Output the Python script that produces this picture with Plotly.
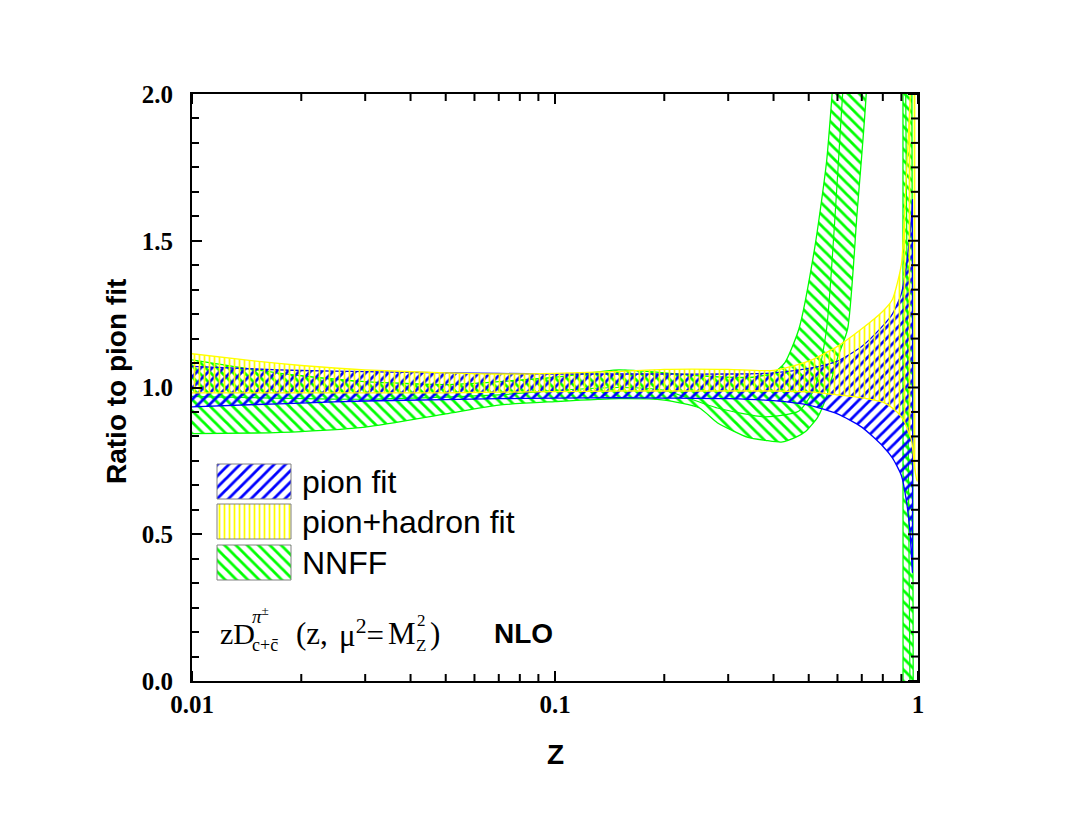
import math
import plotly.graph_objects as go

# band edges: ratio to the pion-fit central value
z_pion = [0.01, 0.015, 0.02, 0.03, 0.05, 0.07, 0.1, 0.15, 0.2, 0.3, 0.4, 0.5,
          0.6, 0.7, 0.8, 0.85, 0.9, 0.93, 0.95, 0.962, 0.965]
pion_hi = [1.072, 1.063, 1.058, 1.054, 1.05, 1.048, 1.046, 1.046, 1.046, 1.046, 1.05, 1.065,
           1.09, 1.14, 1.21, 1.25, 1.32, 1.42, 1.52, 1.6, 1.64]
pion_lo = [0.934, 0.942, 0.947, 0.954, 0.959, 0.962, 0.964, 0.965, 0.964, 0.962, 0.955, 0.94,
           0.91, 0.865, 0.80, 0.76, 0.70, 0.61, 0.51, 0.40, 0.37]

z_ph = [0.01, 0.015, 0.02, 0.03, 0.05, 0.07, 0.1, 0.15, 0.2, 0.3, 0.4, 0.5,
        0.6, 0.7, 0.8, 0.85, 0.9, 0.92, 0.94, 0.96, 0.98, 0.995]
ph_hi = [1.115, 1.09, 1.075, 1.06, 1.05, 1.046, 1.048, 1.055, 1.062, 1.062, 1.058, 1.09,
         1.14, 1.2, 1.26, 1.30, 1.42, 1.62, 1.85, 2.1, 2.6, 3.0]
ph_lo = [0.982, 0.982, 0.982, 0.982, 0.982, 0.984, 0.986, 0.988, 0.988, 0.988, 0.988, 0.985,
         0.975, 0.965, 0.95, 0.93, 0.90, 0.88, 0.85, 0.82, 0.72, 0.68]

z_nnff_hi = [0.01, 0.015, 0.02, 0.03, 0.05, 0.07, 0.1, 0.15, 0.2, 0.25, 0.3, 0.35, 0.4,
             0.43, 0.47, 0.52, 0.56, 0.58, 0.62, 0.7, 0.8, 0.88, 0.905, 0.909, 0.9095, 0.912, 0.975]
nnff_hi = [1.094, 1.06, 1.04, 1.02, 1.01, 1.02, 1.035, 1.06, 1.05, 1.04, 1.035, 1.035, 1.05,
           1.085, 1.2, 1.48, 1.77, 2.0, 2.5, 3.5, 5.0, 6.0, 3.0, 2.0, 0.0, -1.0, -3.0]
z_nnff_lo = [0.01, 0.015, 0.02, 0.03, 0.05, 0.07, 0.1, 0.15, 0.2, 0.25, 0.28, 0.34, 0.38,
             0.42, 0.46, 0.49, 0.53, 0.56, 0.6, 0.64, 0.68, 0.72, 0.8, 0.9, 0.955, 0.962, 0.97, 0.975]
nnff_lo = [0.843, 0.845, 0.85, 0.865, 0.91, 0.94, 0.952, 0.962, 0.957, 0.93, 0.88, 0.83, 0.82,
           0.814, 0.83, 0.85, 0.9, 0.97, 1.1, 1.2, 1.6, 2.0, 3.5, 6.0, 3.0, 2.0, 0.0, -3.0]
z_nnff_mid = [0.01, 0.03, 0.07, 0.1, 0.15, 0.2, 0.28, 0.38, 0.47, 0.52, 0.56, 0.62, 0.7,
              0.85, 0.92, 0.925, 0.95, 0.96]
nnff_mid = [0.97, 0.96, 0.975, 0.99, 1.0, 0.99, 0.93, 0.9, 0.92, 1.0, 1.2, 2.0, 3.0,
            5.0, 3.0, 2.0, 0.0, -2.0]

names = ["pion fit", "pion+hadron fit", "NNFF"]
colors = ["#0000ff", "#ffff00", "#00ff00"]
shapes = ["/", "|", "\\"]
sizes = [8, 5, 8]

# page body has an 8px margin, so figure coords = screen coords - 8
OFF = 8
W, H = 1067 - OFF, 817 - OFF
L, R, T, B = 192, 918, 94, 681   # plot frame in screen pixels


def px(x):
    return (x - L) / (R - L)


def py(y):
    return (B - y) / (B - T)


def pattern(i):
    return dict(shape=shapes[i], fgcolor=colors[i], bgcolor="rgba(0,0,0,0)",
                fgopacity=1, size=sizes[i], solidity=0.35)


def band(zh, hi, zl, lo, i):
    return go.Scatter(
        x=list(zh) + list(zl)[::-1], y=list(hi) + list(lo)[::-1],
        mode="lines", fill="toself", fillcolor="rgba(0,0,0,0)", fillpattern=pattern(i),
        line=dict(color=colors[i], width=1.3, shape="spline", smoothing=0.6),
        showlegend=False, hoverinfo="skip")


fig = go.Figure()
fig.add_trace(band(z_nnff_hi, nnff_hi, z_nnff_lo, nnff_lo, 2))
fig.add_trace(go.Scatter(x=z_nnff_mid, y=nnff_mid, mode="lines",
                         line=dict(color=colors[2], width=1.2, shape="spline", smoothing=0.6),
                         showlegend=False, hoverinfo="skip"))
fig.add_trace(band(z_pion, pion_hi, z_pion, pion_lo, 0))
fig.add_trace(band(z_ph, ph_hi, z_ph, ph_lo, 1))

# legend swatches: hatched boxes placed via the axes' own scales
box_top = [464, 504, 545]
for i, name in enumerate(names):
    y0, y1 = py(box_top[i]), py(box_top[i] + 35)
    x0, x1 = px(217), px(291)
    zx0, zx1 = 10 ** (-2 + 2 * x0), 10 ** (-2 + 2 * x1)
    fig.add_trace(go.Scatter(
        x=[zx0, zx1, zx1, zx0, zx0], y=[2 * y0, 2 * y0, 2 * y1, 2 * y1, 2 * y0],
        mode="lines", fill="toself", fillcolor="rgba(0,0,0,0)", fillpattern=pattern(i),
        line=dict(color="#808080", width=1), showlegend=False, hoverinfo="skip"))
    fig.add_annotation(x=px(300), y=(y0 + y1) / 2, xref="paper", yref="paper",
                       text=name, showarrow=False, xanchor="left", yanchor="middle",
                       font=dict(family="Liberation Sans", size=32, color="black"))

serif = "Liberation Serif"
notes = [
    ("zD", 218, 633, 30, serif, "normal"),
    ("<i>π</i><sup>±</sup>", 250, 615, 19, serif, "normal"),
    ("c+c\u0304", 250, 645, 18, serif, "normal"),
    ("(z,", 294, 633, 31, serif, "normal"),
    ("μ<sup>2</sup>=", 337, 633, 31, serif, "normal"),
    ("M", 386, 633, 31, serif, "normal"),
    ("2", 415, 620, 17, serif, "normal"),
    ("Z", 414, 645, 17, serif, "normal"),
    (")", 428, 633, 31, serif, "normal"),
    ("NLO", 492, 633, 28, "Liberation Sans", "bold"),
]
for text, x, y, size, fam, wt in notes:
    fig.add_annotation(x=px(x), y=py(y), xref="paper", yref="paper", text=text,
                       showarrow=False, xanchor="left", yanchor="middle",
                       font=dict(family=fam, size=size, color="black", weight=wt))

fig.add_annotation(x=px(116), y=py(382), xref="paper", yref="paper",
                   text="Ratio to pion fit", textangle=-90, showarrow=False,
                   xanchor="center", yanchor="middle",
                   font=dict(family="Liberation Sans", size=28, color="black", weight="bold"))
fig.add_annotation(x=0.5, y=py(755), xref="paper", yref="paper", text="Z", showarrow=False,
                   xanchor="center", yanchor="middle",
                   font=dict(family="Liberation Sans", size=28, color="black", weight="bold"))

# inward ticks on the bottom, top and right sides of the frame
major_x = [0.01, 0.1, 1]
minor_x = [k * 0.01 for k in range(2, 10)] + [k * 0.1 for k in range(2, 10)]
xw, yh = R - L, B - T
tick = dict(color="black", width=2)
for v, ln in [(v, 10) for v in major_x] + [(v, 7) for v in minor_x]:
    xf = (math.log10(v) + 2) / 2
    fig.add_shape(type="line", xref="paper", yref="paper", x0=xf, x1=xf,
                  y0=0, y1=ln / yh, line=tick, layer="above")
    fig.add_shape(type="line", xref="paper", yref="paper", x0=xf, x1=xf,
                  y0=1, y1=1 - ln / yh, line=tick, layer="above")
for k in range(25):
    yf = k / 24
    ln = 10 if k % 6 == 0 else 7
    fig.add_shape(type="line", xref="paper", yref="paper", x0=1, x1=1 - ln / xw,
                  y0=yf, y1=yf, line=tick, layer="above")

tickfont = dict(family=serif, size=25, color="black", weight="bold")
fig.update_layout(
    width=W, height=H,
    margin=dict(l=L - OFF, r=W - (R - OFF), t=T - OFF, b=H - (B - OFF)),
    paper_bgcolor="white", plot_bgcolor="white", showlegend=False,
    xaxis=dict(type="log", range=[-2, 0], showline=True, linecolor="black", linewidth=2,
               mirror=True, ticks="inside", ticklen=10, tickwidth=2, tickcolor="black",
               tickvals=major_x, ticktext=["0.01", "0.1", "1"], tickfont=tickfont,
               ticklabelstandoff=0, showgrid=False, zeroline=False),
    yaxis=dict(range=[0, 2], showline=True, linecolor="black", linewidth=2,
               mirror=True, ticks="inside", ticklen=10, tickwidth=2, tickcolor="black",
               dtick=0.5, tickformat=".1f", tickfont=tickfont, ticklabelstandoff=12,
               showgrid=False, zeroline=False,
               minor=dict(ticks="inside", ticklen=7, tickwidth=2, tickcolor="black",
                          dtick=1 / 12, showgrid=False)),
)

fig.write_html("out.html")
